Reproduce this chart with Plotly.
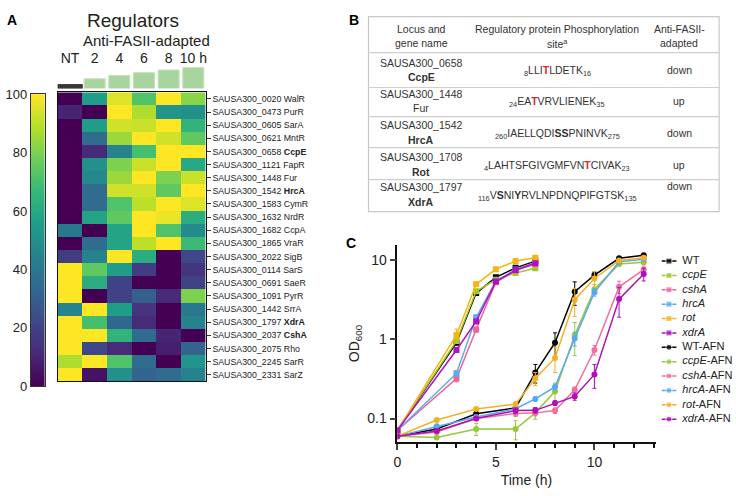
import plotly.graph_objects as go

W, H = 736, 496
def fx(px): return px / W
def fy(py): return 1 - py / H

FONT = "Arial, Liberation Sans, sans-serif"

# ---------------- Panel A data ----------------
hm_columns = ["NT", "2", "4", "6", "8", "10 h"]
hm_growth = [4, 10, 13.3, 16.3, 19, 21.7]
hm_rows = [
    "SAUSA300_0020 WalR", "SAUSA300_0473 PurR", "SAUSA300_0605 SarA",
    "SAUSA300_0621 MntR", "SAUSA300_0658 <b>CcpE</b>", "SAUSA300_1121 FapR",
    "SAUSA300_1448 Fur", "SAUSA300_1542 <b>HrcA</b>", "SAUSA300_1583 CymR",
    "SAUSA300_1632 NrdR", "SAUSA300_1682 CcpA", "SAUSA300_1865 VraR",
    "SAUSA300_2022 SigB", "SAUSA300_0114 SarS", "SAUSA300_0691 SaeR",
    "SAUSA300_1091 PyrR", "SAUSA300_1442 SrrA", "SAUSA300_1797 <b>XdrA</b>",
    "SAUSA300_2037 <b>CshA</b>", "SAUSA300_2075 Rho", "SAUSA300_2245 SarR",
    "SAUSA300_2331 SarZ",
]
hm_values = [
    [0, 55, 95, 72, 100, 82],
    [10, 0, 100, 88, 52, 50],
    [0, 55, 93, 92, 100, 65],
    [0, 35, 85, 100, 93, 75],
    [0, 12, 45, 70, 100, 100],
    [0, 50, 80, 92, 100, 60],
    [0, 47, 85, 100, 80, 92],
    [0, 35, 93, 93, 75, 100],
    [0, 35, 72, 90, 100, 95],
    [0, 58, 75, 100, 97, 62],
    [40, 0, 58, 100, 72, 48],
    [0, 35, 58, 90, 100, 68],
    [18, 45, 100, 62, 0, 22],
    [100, 75, 55, 18, 0, 15],
    [100, 62, 20, 0, 0, 20],
    [100, 0, 20, 30, 12, 80],
    [45, 100, 55, 15, 0, 40],
    [100, 70, 33, 12, 0, 45],
    [100, 100, 65, 35, 10, 0],
    [100, 22, 12, 0, 8, 32],
    [88, 100, 72, 35, 0, 52],
    [100, 5, 50, 32, 35, 45],
]
cbar_levels = list(range(0, 101))
cbar_ticks = [0, 20, 40, 60, 80, 100]

# ---------------- Panel B data ----------------
tbl_header = ["Locus and<br>gene name",
              "Regulatory protein Phosphorylation<br>site<sup>a</sup>",
              "Anti-FASII-<br>adapted"]
tbl_locus = ["SAUSA300_0658<br><b>CcpE</b>", "SAUSA300_1448<br>Fur",
             "SAUSA300_1542<br><b>HrcA</b>", "SAUSA300_1708<br><b>Rot</b>",
             "SAUSA300_1797<br><b>XdrA</b>"]
RT = "<b><span style='color:#e3262b'>T</span></b>"
tbl_site = [
    "<sub>8</sub>LLI" + RT + "LDETK<sub>16</sub>",
    "<sub>24</sub>EA" + RT + "VRVLIENEK<sub>35</sub>",
    "<sub>260</sub>IAELLQDI<b>SS</b>PNINVK<sub>275</sub>",
    "<sub>4</sub>LAHTSFGIVGMFVN" + RT + "CIVAK<sub>23</sub>",
    "<sub>116</sub>V<b>S</b>NI<b>Y</b>RVLNPDNQPIFGTSK<sub>135</sub>",
]
tbl_adapt = ["down", "up", "down", "up", "down"]

# ---------------- Panel C data ----------------
t_wt = [0, 3, 4, 5, 6, 7]
t_afn = [0, 2, 4, 6, 7, 8, 9, 10, 11.25, 12.5]
strain_names = ["WT", "<i>ccpE</i>", "<i>cshA</i>", "<i>hrcA</i>", "<i>rot</i>", "<i>xdrA</i>"]
afn_names = ["WT-AFN", "<i>ccpE</i>-AFN", "<i>cshA</i>-AFN", "<i>hrcA</i>-AFN", "<i>rot</i>-AFN", "<i>xdrA</i>-AFN"]
od_wt = [
    [0.071, 0.90, 3.8, 6.0, 7.9, 9.6],
    [0.071, 0.95, 4.0, 5.6, 6.8, 7.8],
    [0.071, 0.32, 1.32, 5.2, 7.3, 8.8],
    [0.071, 0.37, 1.87, 5.4, 7.5, 9.2],
    [0.071, 1.12, 4.9, 7.6, 9.6, 10.6],
    [0.071, 0.73, 1.67, 5.3, 7.4, 9.0],
]
err_wt = [
    [0, 0.05, 0.2, 0, 0, 0],
    [0, 0, 0, 0, 0, 0],
    [0, 0.03, 0.1, 0, 0, 0],
    [0, 0.03, 0.15, 0, 0, 0],
    [0, 0.22, 0.3, 0, 0, 0],
    [0, 0, 0, 0, 0, 0],
]
od_afn = [
    [0.060, 0.074, 0.115, 0.136, 0.38, 0.90, 3.96, 6.4, 10.4, 11.4],
    [0.060, 0.058, 0.074, 0.074, 0.118, 0.22, 1.12, 4.26, 8.8, 9.3],
    [0.060, 0.068, 0.100, 0.116, 0.118, 0.126, 0.23, 0.73, 4.56, 7.5],
    [0.060, 0.080, 0.105, 0.133, 0.177, 0.25, 1.02, 3.88, 9.4, 10.1],
    [0.060, 0.096, 0.132, 0.152, 0.32, 0.58, 3.13, 5.8, 9.8, 10.6],
    [0.060, 0.070, 0.100, 0.126, 0.127, 0.157, 0.19, 0.36, 3.19, 6.6],
]
err_afn = [
    [0, 0, 0.005, 0.01, 0.1, 0.3, 1.3, 0.6, 0.4, 0.4],
    [0, 0, 0.013, 0.02, 0.02, 0.06, 0.5, 0.6, 0.4, 0.4],
    [0, 0, 0.005, 0.01, 0.01, 0.01, 0.02, 0.1, 0.8, 0.8],
    [0, 0, 0.005, 0.01, 0.01, 0.02, 0.2, 0.4, 0.4, 0.4],
    [0, 0, 0.005, 0.01, 0.06, 0.2, 1.2, 1.3, 0.4, 0.4],
    [0, 0, 0.005, 0.01, 0.01, 0.01, 0.02, 0.12, 1.3, 1.2],
]
col_wt = ["#000000", "#a2c62c", "#f0649a", "#5aaaee", "#f6b512", "#b010c0"]
col_afn = ["#000000", "#96c83a", "#f06ea0", "#56a8f2", "#f5b021", "#b00fb8"]

fig = go.Figure()

# Heatmap
fig.add_trace(go.Heatmap(z=hm_values, x=hm_columns, y=hm_rows, colorscale="Viridis",
                         zmin=0, zmax=100, showscale=False, xaxis="x", yaxis="y"))
# Growth bars above heatmap
fig.add_trace(go.Bar(x=hm_columns, y=hm_growth, xaxis="x2", yaxis="y2",
                     marker=dict(color=["#3a3a3a"] + ["#a8d49e"] * 5,
                                 line=dict(color=["#3a3a3a"] + ["#c4e2bb"] * 5, width=1)),
                     width=[1.0, 0.85, 0.85, 0.85, 0.85, 0.85], showlegend=False))
# Colour scale bar
fig.add_trace(go.Heatmap(z=[[v] for v in cbar_levels], y=cbar_levels, x=[0],
                         colorscale="Viridis", zmin=0, zmax=100, showscale=False,
                         xaxis="x3", yaxis="y3"))

# Growth curves
series = []
for i in range(6):
    series.append((t_wt, od_wt[i], err_wt[i], col_wt[i], "square", strain_names[i]))
for i in range(6):
    series.append((t_afn, od_afn[i], err_afn[i], col_afn[i], "circle", afn_names[i]))

for (tx, ty, te, c, sym, nm) in series:
    fig.add_trace(go.Scatter(x=tx, y=ty, mode="lines+markers", name=nm, showlegend=False,
                             line=dict(color=c, width=1.5),
                             marker=dict(symbol=sym, size=6, color=c),
                             error_y=dict(type="data", array=te, color=c, thickness=1, width=2),
                             xaxis="x4", yaxis="y4"))

# Legend keys (drawn on a small dedicated axis)
for k, (tx, ty, te, c, sym, nm) in enumerate(series):
    fig.add_trace(go.Scatter(x=[0, 0.5, 1, None, 1.4], y=[k, k, k, None, k],
                             mode="lines+markers+text", connectgaps=False,
                             line=dict(color=c, width=1.5),
                             marker=dict(symbol=sym, size=[0, 6, 0, 0, 0], color=c),
                             text=["", "", "", "", nm], textposition="middle right", cliponaxis=False,
                             textfont=dict(size=11, color="#222", family=FONT),
                             showlegend=False, hoverinfo="skip", xaxis="x5", yaxis="y5"))

ann = []
def A(x, y, text, size=11, **kw):
    d = dict(x=fx(x), y=fy(y), xref="paper", yref="paper", text=text, showarrow=False,
             font=dict(size=size, color=kw.pop("color", "#222"), family=FONT),
             xanchor=kw.pop("xanchor", "center"), yanchor=kw.pop("yanchor", "middle"))
    d.update(kw)
    ann.append(d)

A(8, 13, "<b>A</b>", 14, color="#000")
A(352, 13, "<b>B</b>", 14, color="#000")
A(349, 243, "<b>C</b>", 14, color="#000")
A(130, 14, "Regulators", 19)
A(143, 35, "Anti-FASII-adapted", 15)

# Table
shapes = [dict(type="rect", xref="paper", yref="paper", x0=fx(367), x1=fx(720), y0=fy(10), y1=fy(211),
               line=dict(color="#c8c8c8", width=1.2))]
for ly in [47, 83, 113, 145, 178]:
    shapes.append(dict(type="line", xref="paper", yref="paper", x0=fx(367), x1=fx(720),
                       y0=fy(ly), y1=fy(ly), line=dict(color="#cfcfcf", width=1.2)))
col_x = [420, 557, 680]
TS = 10.5

def cell(x, yc, text, gap):
    lines = text.split("<br>")
    n = len(lines)
    for j, ln in enumerate(lines):
        A(x, yc + (j - (n - 1) / 2) * gap, ln, TS, color="#333")

for j, t in enumerate(tbl_header):
    cell(col_x[j], 30, t, 14.6)
row_y = [65, 97, 129.5, 162.5, 193.5]
for i in range(5):
    cell(col_x[0], row_y[i], tbl_locus[i], 14.8)
    cell(col_x[1], row_y[i] + 1, tbl_site[i], 14.8)
    cell(col_x[2], 185 if i == 4 else row_y[i], tbl_adapt[i], 14.8)

fig.update_layout(
    width=W, height=H, margin=dict(l=0, r=0, t=0, b=0),
    paper_bgcolor="white", plot_bgcolor="white",
    font=dict(family=FONT, color="#222"),
    xaxis=dict(domain=[fx(54), fx(203)], showticklabels=False, ticks="", showline=True,
               mirror=True, linecolor="#111", linewidth=1, anchor="y"),
    yaxis=dict(domain=[fy(386), fy(88)], side="right", ticks="outside", ticklen=4,
               tickcolor="#333", autorange="reversed",
               tickfont=dict(size=8.8, color="#222"),
               showline=True, mirror=True, linecolor="#111", linewidth=1, anchor="x"),
    xaxis2=dict(domain=[fx(54), fx(203)], side="top", anchor="y2", ticks="", showline=False,
                tickfont=dict(size=14, color="#222"), range=[-0.5, 5.5], type="category"),
    yaxis2=dict(domain=[fy(84), fy(62)], range=[0, 22], visible=False, anchor="x2"),
    xaxis3=dict(domain=[fx(27), fx(41)], showticklabels=False, ticks="", showline=True,
                mirror=True, linecolor="#333", anchor="y3"),
    yaxis3=dict(domain=[fy(391), fy(90)], range=[0, 100], tickvals=cbar_ticks, ticks="",
                tickfont=dict(size=13, color="#222"), showline=True, mirror=True,
                linecolor="#333", anchor="x3", showgrid=False, zeroline=False),
    xaxis4=dict(domain=[fx(396), fx(656)], range=[0, 13.1], tickvals=[0, 5, 10], ticks="outside",
                ticklen=6, tickwidth=1.5, showline=True, linecolor="#111", linewidth=1.5,
                minor=dict(dtick=1, ticks="outside", ticklen=4, tickwidth=1.5, tickcolor="#111"),
                tickfont=dict(size=14, color="#222"), showgrid=False, zeroline=False, anchor="y4",
                title=dict(text="Time (h)", font=dict(size=14, color="#222"), standoff=6)),
    yaxis4=dict(domain=[fy(449), fy(245)], type="log", range=[-1.3, 1.19], tickvals=[0.1, 1, 10],
                ticktext=["0.1", "1", "10"], ticks="outside", ticklen=6, tickwidth=1.5,
                showline=True, linecolor="#111", linewidth=1.5, tickfont=dict(size=14, color="#222"),
                showgrid=False, zeroline=False, anchor="x4",
                title=dict(text="OD<sub>600</sub>", font=dict(size=14, color="#222"), standoff=4)),
    xaxis5=dict(domain=[fx(662), fx(686)], range=[0, 1.6], visible=False, anchor="y5"),
    yaxis5=dict(domain=[fy(432.4), fy(254.6)], range=[11.5, -0.5], visible=False, anchor="x5"),
    showlegend=False, hovermode=False,
    annotations=ann, shapes=shapes,
)

fig.write_html("out.html", config={"displayModeBar": False},
               post_script="document.body.style.margin='0px';")
